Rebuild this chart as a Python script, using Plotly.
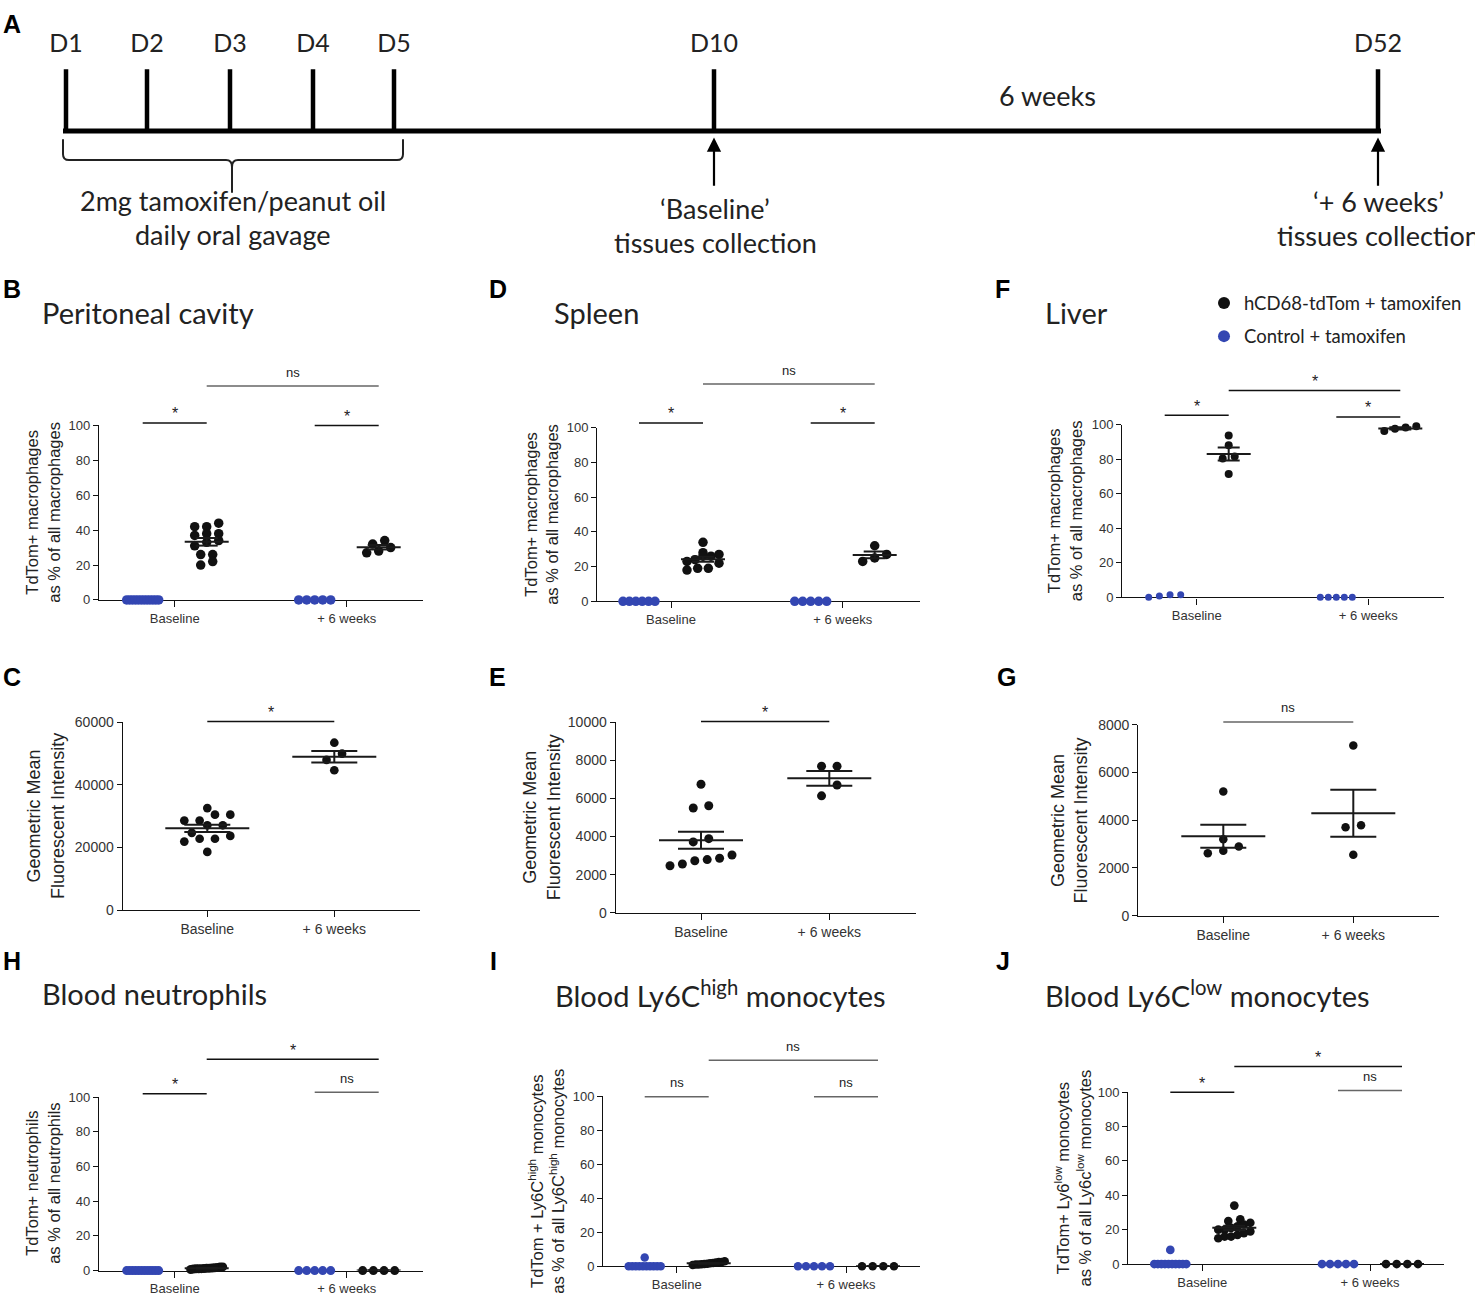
import numpy as np
import plotly.graph_objects as go

W, H = 1475, 1299
BLACK = "#111111"
BLUE = "#3346b2"
GRAY = "#666666"
AXF = "Liberation Sans, Arial, sans-serif"
CALF = "Lato, Carlito, Calibri, sans-serif"

# ------------------------------------------------------------------ data
categories = ["Baseline", "+ 6 weeks"]
group_names = {"cd68": "hCD68-tdTom + tamoxifen", "ctrl": "Control + tamoxifen"}

# B  Peritoneal cavity, % TdTom+ of all macrophages
pc_ctrl_base = [0, 0, 0, 0, 0, 0, 0, 0, 0, 0, 0, 0]
pc_ctrl_6w = [0, 0, 0, 0, 0]
pc_cd68_base = [44, 42, 42, 38, 38, 37, 34, 33, 31, 26, 26, 22, 20]
pc_cd68_6w = [34, 32, 30, 28, 27]
# D  Spleen
sp_ctrl_base = [0, 0, 0, 0, 0, 0]
sp_ctrl_6w = [0, 0, 0, 0, 0]
sp_cd68_base = [34, 28, 27, 26, 26, 24, 23, 22, 19, 19, 18]
sp_cd68_6w = [32, 27, 25, 23]
# F  Liver
lv_ctrl_base = [0, 1.5, 0.8, 1.5]
lv_ctrl_6w = [0, 0, 0, 0, 0]
lv_cd68_base = [93.7, 88, 81.5, 80.4, 71.4]
lv_cd68_6w = [96.2, 99, 97.5, 98.3]
# C  Peritoneal MFI
pc_mfi_base = [32600, 30500, 30500, 28600, 28600, 27100, 27100, 24700, 23700, 22800, 22800, 21900, 18600]
pc_mfi_6w = [53500, 50000, 48000, 44700]
# E  Spleen MFI
sp_mfi_base = [6750, 5620, 5500, 3890, 3720, 3030, 2860, 2790, 2730, 2560, 2470]
sp_mfi_6w = [7700, 7700, 6710, 6140]
# G  Liver MFI
lv_mfi_base = [5200, 3200, 2900, 2720, 2620]
lv_mfi_6w = [7130, 3790, 3710, 2550]
# H  Blood neutrophils
neu_ctrl_base = [0, 0, 0, 0, 0, 0, 0, 0, 0, 0, 0, 0]
neu_cd68_base = [2.0, 1.5, 1.2, 1.0, 1.8, 1.4, 0.9, 0.6, 1.1, 1.6, 2.1, 1.0, 1.3]
neu_ctrl_6w = [0, 0, 0, 0, 0]
neu_cd68_6w = [0, 0, 0, 0]
# I  Blood Ly6C-high monocytes
hi_ctrl_base = [5.2, 0, 0, 0, 0, 0, 0, 0, 0, 0, 0]
hi_cd68_base = [3.0, 2.5, 2.2, 2.0, 1.5, 1.2, 1.0, 0.8, 1.8, 2.6, 1.4, 1.0]
hi_ctrl_6w = [0, 0, 0, 0, 0]
hi_cd68_6w = [0, 0, 0, 0]
# J  Blood Ly6C-low monocytes
lo_ctrl_base = [8.2, 0, 0, 0, 0, 0, 0, 0, 0, 0, 0]
lo_cd68_base = [34, 26, 25, 24, 23, 22, 21, 20, 20, 19, 18, 17, 16, 16, 15]
lo_ctrl_6w = [0, 0, 0, 0, 0]
lo_cd68_6w = [0, 0, 0, 0]

# timeline schematic
tl_days = ["D1", "D2", "D3", "D4", "D5", "D10", "D52"]
tl_pos = [66, 147, 230, 313, 394, 714, 1378]

PCT_T = "TdTom+ macrophages<br>as % of all macrophages"
MFI_T = "Geometric Mean<br>Fluorescent Intensity"

panels = [
    dict(L="B", title="Peritoneal cavity", ytitle=PCT_T, kind="pct",
         data={"ctrl": [pc_ctrl_base, pc_ctrl_6w], "cd68": [pc_cd68_base, pc_cd68_6w]},
         g=(99, 423, 174.7, 346.7, 599.3, 422.7), ymax=100, step=20, ms=9.5, tshift=56,
         br=[("ctrl", 0, "cd68", 0, 101.5, "*"), ("ctrl", 1, "cd68", 1, 100, "*"),
             ("cd68", 0, "cd68", 1, 122.6, "ns")]),
    dict(L="D", title="Spleen", ytitle=PCT_T, kind="pct",
         data={"ctrl": [sp_ctrl_base, sp_ctrl_6w], "cd68": [sp_cd68_base, sp_cd68_6w]},
         g=(597.3, 920, 671, 842.7, 600.7, 425), ymax=100, step=20, ms=9.5, tshift=56,
         br=[("ctrl", 0, "cd68", 0, 102.8, "*"), ("ctrl", 1, "cd68", 1, 102.8, "*"),
             ("cd68", 0, "cd68", 1, 125.2, "ns")]),
    dict(L="F", title="Liver", ytitle=PCT_T, kind="pct",
         data={"ctrl": [lv_ctrl_base, lv_ctrl_6w], "cd68": [lv_cd68_base, lv_cd68_6w]},
         g=(1122.3, 1444, 1196.7, 1368.3, 596.7, 421.7), ymax=100, step=20, ms=8, tshift=57,
         br=[("ctrl", 0, "cd68", 0, 105.4, "*"), ("ctrl", 1, "cd68", 1, 104.4, "*"),
             ("cd68", 0, "cd68", 1, 119.7, "*")]),
    dict(L="C", title=None, ytitle=MFI_T, kind="mfi",
         data={"cd68": [pc_mfi_base, pc_mfi_6w]},
         g=(122.7, 420, 207.3, 334.3, 913.3, 723.3), ymax=60000, step=20000, ms=8.7, tshift=77,
         hmax=23, thr=0.9,
         br=[("cd68", 0, "cd68", 1, 60300, "*")]),
    dict(L="E", title=None, ytitle=MFI_T, kind="mfi",
         data={"cd68": [sp_mfi_base, sp_mfi_6w]},
         g=(615.7, 916, 701, 829.3, 916, 723.3), ymax=10000, step=2000, ms=9, tshift=74,
         hmax=31, thr=1.3,
         br=[("cd68", 0, "cd68", 1, 10050, "*")]),
    dict(L="G", title=None, ytitle=MFI_T, kind="mfi",
         data={"cd68": [lv_mfi_base, lv_mfi_6w]},
         g=(1138.3, 1439, 1223.3, 1353.3, 919, 725.7), ymax=8000, step=2000, ms=8.5, tshift=69,
         hmax=23, thr=0.9,
         br=[("cd68", 0, "cd68", 1, 8120, "ns")]),
    dict(L="H", title="Blood neutrophils", ytitle="TdTom+ neutrophils<br>as % of all neutrophils", kind="pct",
         data={"ctrl": [neu_ctrl_base, neu_ctrl_6w], "cd68": [neu_cd68_base, neu_cd68_6w]},
         g=(99, 422.7, 174.7, 346.7, 1278.3, 1102.7), ymax=100, step=20, ms=9, tshift=56,
         br=[("ctrl", 0, "cd68", 0, 101.9, "*"), ("ctrl", 1, "cd68", 1, 102.8, "ns"),
             ("cd68", 0, "cd68", 1, 121.9, "*")]),
    dict(L="I", title="Blood Ly6C<sup>high</sup> monocytes",
         ytitle="TdTom + Ly6C<sup>high</sup> monocytes<br>as % of all Ly6C<sup>high</sup> monocytes", kind="pct",
         data={"ctrl": [hi_ctrl_base, hi_ctrl_6w], "cd68": [hi_cd68_base, hi_cd68_6w]},
         g=(603.3, 920, 676.7, 846, 1274, 1102), ymax=100, step=20, ms=8.5, tshift=57,
         br=[("ctrl", 0, "cd68", 0, 99.8, "ns"), ("ctrl", 1, "cd68", 1, 99.8, "ns"),
             ("cd68", 0, "cd68", 1, 121.3, "ns")]),
    dict(L="J", title="Blood Ly6C<sup>low</sup> monocytes",
         ytitle="TdTom+ Ly6<sup>low</sup> monocytes<br>as % of all Ly6c<sup>low</sup> monocytes", kind="pct",
         data={"ctrl": [lo_ctrl_base, lo_ctrl_6w], "cd68": [lo_cd68_base, lo_cd68_6w]},
         g=(1128.3, 1444, 1202.3, 1370, 1271.7, 1097.7), ymax=100, step=20, ms=8.7, tshift=56,
         br=[("ctrl", 0, "cd68", 0, 100, "*"), ("ctrl", 1, "cd68", 1, 101, "ns"),
             ("cd68", 0, "cd68", 1, 114.9, "*")]),
]

title_pos = {"B": (40, 308), "D": (552, 308), "F": (1043, 308),
             "H": (40, 998), "I": (553, 998), "J": (1043, 998)}
letter_pos = {"A": (1, 16), "B": (1, 285), "C": (1, 677), "D": (487, 285), "E": (487, 677),
              "F": (993, 285), "G": (995, 677), "H": (1, 965), "I": (488, 965), "J": (994, 965)}


def swarm(vals, ppu_y, d, cmax, hmax, thr):
    v = np.asarray(vals, float)
    order = np.argsort(v, kind="stable")
    offs = np.zeros(len(v))
    rows, cur = [], []
    for i in order:
        if cur and (v[i] - v[cur[0]]) * ppu_y <= thr * d:
            cur.append(i)
        else:
            if cur:
                rows.append(cur)
            cur = [i]
    if cur:
        rows.append(cur)
    for r in rows:
        k = len(r)
        if k < 2:
            continue
        s = min(cmax, 2 * hmax / (k - 1))
        for j, i in enumerate(r):
            offs[i] = (j - (k - 1) / 2) * s
    return offs


fig = go.Figure()
layout = {}
annotations = []
shapes = []
legend_done = set()

for idx, p in enumerate(panels):
    n = idx + 1
    sfx = "" if n == 1 else str(n)
    xa, ya = "x" + sfx, "y" + sfx
    ybn = n + 9
    yb = "y%d" % ybn
    x0, x1, t1, t2, y0, ytop = p["g"]
    ppu_x = t2 - t1
    ppu_y = (y0 - ytop) / p["ymax"]
    xr = [1 - (t1 - x0) / ppu_x, 2 + (x1 - t2) / ppu_x]
    ydom = [1 - y0 / H, 1 - ytop / H]
    ext = 75
    pct = p["kind"] == "pct"
    fs = 13 if pct else 14
    tv = list(range(0, p["ymax"] + 1, p["step"]))
    layout["xaxis" + sfx] = dict(
        domain=[x0 / W, x1 / W], range=xr, anchor=ya, tickvals=[1, 2], ticktext=categories,
        showline=True, linecolor="#111", linewidth=1.3, ticks="outside", ticklen=6, tickwidth=1.3,
        tickcolor="#111", showgrid=False, zeroline=False, layer="below traces",
        tickfont=dict(family=AXF, size=fs, color="#333"), fixedrange=True)
    layout["yaxis" + sfx] = dict(
        domain=ydom, range=[0, p["ymax"]], anchor=xa, tickvals=tv, ticktext=[str(t) for t in tv],
        showline=True, linecolor="#111", linewidth=1.3, ticks="outside", ticklen=5, tickwidth=1.3,
        tickcolor="#111", showgrid=False, zeroline=False, layer="below traces",
        tickfont=dict(family=AXF, size=fs, color="#333"), fixedrange=True)
    layout["yaxis%d" % ybn] = dict(
        domain=[ydom[0], 1 - (ytop - ext) / H], range=[0, p["ymax"] + ext / ppu_y],
        anchor=xa, visible=False, fixedrange=True)

    goff = {"ctrl": -32, "cd68": 32} if pct else {"cd68": 0}
    cmax = 12 if pct else 15.5
    hmax = 16 if pct else p["hmax"]
    thr = 0.9 if pct else p["thr"]
    mw, cw = (22, 11) if pct else (42, 23)

    def gx(g, c):
        return (c + 1) + goff[g] / ppu_x

    for g in ["ctrl", "cd68"]:
        if g not in p["data"]:
            continue
        for c in range(2):
            vals = p["data"][g][c]
            ms = p["ms"] if (g == "cd68" or p["L"] != "F") else 7
            offs = swarm(vals, ppu_y, ms, cmax, hmax, thr)
            cx = gx(g, c)
            show = (p["L"] == "B" and c == 0 and g not in legend_done)
            if show:
                legend_done.add(g)
            col = BLACK if g == "cd68" else BLUE
            fig.add_trace(go.Scatter(
                x=cx + offs / ppu_x, y=vals, mode="markers", xaxis=xa, yaxis=ya,
                marker=dict(color=col, size=ms, line=dict(width=0)), cliponaxis=False,
                name=group_names[g], showlegend=show, legendgroup=g,
                legendrank=1 if g == "cd68" else 2, hoverinfo="skip"))
            if g == "cd68" and len(vals) > 1:
                m = float(np.mean(vals))
                s = float(np.std(vals, ddof=1) / np.sqrt(len(vals)))
                dx, dc = mw / ppu_x, cw / ppu_x
                fig.add_trace(go.Scatter(
                    x=[cx - dx, cx + dx, None, cx - dc, cx + dc, None, cx - dc, cx + dc, None, cx, cx],
                    y=[m, m, None, m + s, m + s, None, m - s, m - s, None, m - s, m + s],
                    mode="lines", xaxis=xa, yaxis=ya, line=dict(color="#1a1a1a", width=2),
                    showlegend=False, hoverinfo="skip"))

    for (ga, ca, gb, cb, yv, lab) in p["br"]:
        xa_, xb_ = gx(ga, ca), gx(gb, cb)
        col = BLACK if lab == "*" else GRAY
        fig.add_trace(go.Scatter(x=[xa_, xb_], y=[yv, yv], mode="lines", xaxis=xa, yaxis=yb,
                                 line=dict(color=col, width=1.5), showlegend=False, hoverinfo="skip"))
        annotations.append(dict(
            x=(xa_ + xb_) / 2, y=yv, xref=xa, yref=yb, text=lab, showarrow=False,
            yanchor="middle", yshift=9 if lab == "*" else 14,
            font=dict(family=AXF, size=16 if lab == "*" else 13, color="#222")))

    annotations.append(dict(
        x=0, y=0.5, xref=xa + " domain", yref=ya + " domain", text=p["ytitle"], textangle=-90,
        xanchor="center", yanchor="middle", xshift=-p["tshift"], showarrow=False,
        font=dict(family=AXF, size=16.5 if pct else 18, color="#222")))

    if p["title"]:
        tx, ty = title_pos[p["L"]]
        annotations.append(dict(x=tx / W, y=1 - ty / H, xref="paper", yref="paper", text=p["title"],
                                xanchor="left", yanchor="middle", showarrow=False,
                                font=dict(family=CALF, size=29, color="#222")))

for L, (lx, ly) in letter_pos.items():
    annotations.append(dict(x=lx / W, y=1 - ly / H, xref="paper", yref="paper", text="<b>%s</b>" % L,
                            xanchor="left", yanchor="middle", showarrow=False,
                            font=dict(family=AXF, size=25, color="#000")))

# ------------------------------------------------------------------ timeline (panel A)
TX, TY = "x10", "y19"
layout["xaxis10"] = dict(domain=[0, 1], range=[0, W], anchor=TY, visible=False, fixedrange=True)
layout["yaxis19"] = dict(domain=[1 - 262 / H, 1], range=[262, 0], anchor=TX, visible=False, fixedrange=True)
fig.add_trace(go.Scatter(x=tl_pos, y=[38] * len(tl_pos), mode="text", text=tl_days, xaxis=TX, yaxis=TY,
                         textfont=dict(family=CALF, size=25, color="#222"), showlegend=False,
                         hoverinfo="skip", cliponaxis=False))
shapes.append(dict(type="line", xref=TX, yref=TY, x0=63, x1=1381, y0=124.5, y1=124.5,
                   line=dict(color="#000", width=5)))
for xp in tl_pos:
    shapes.append(dict(type="line", xref=TX, yref=TY, x0=xp, x1=xp, y0=62, y1=124.5,
                       line=dict(color="#000", width=4.5)))
shapes.append(dict(type="path", xref=TX, yref=TY,
                   path="M 63 133 L 63 148 Q 63 154 69 154 L 226 154 Q 232 154 232 161 L 232 187 "
                        "M 232 161 Q 232 154 238 154 L 397 154 Q 403 154 403 148 L 403 133",
                   line=dict(color="#222", width=2)))
for xp in [tl_pos[5], tl_pos[6]]:
    annotations.append(dict(x=xp, y=131, ax=xp, ay=190, xref=TX, yref=TY, axref=TX, ayref=TY,
                            text=" ", showarrow=True, arrowhead=2, arrowsize=1.3, arrowwidth=2.2,
                            arrowcolor="#000"))
tl_texts = [("6 weeks", 1047, 89), ("2mg tamoxifen/peanut oil", 233, 195), ("daily oral gavage", 233, 229),
            ("\u2018Baseline\u2019", 715, 203), ("tissues collection", 715, 237),
            ("\u2018+ 6 weeks\u2019", 1378, 196), ("tissues collection", 1378, 230)]
for t, xp, yp in tl_texts:
    annotations.append(dict(x=xp, y=yp, xref=TX, yref=TY, text=t, showarrow=False,
                            xanchor="center", yanchor="middle",
                            font=dict(family=CALF, size=27, color="#222")))

fig.update_layout(
    width=W, height=H, margin=dict(l=0, r=0, t=0, b=0),
    paper_bgcolor="white", plot_bgcolor="rgba(0,0,0,0)",
    showlegend=True,
    legend=dict(x=1204 / W, y=1 - 280 / H, xanchor="left", yanchor="top",
                font=dict(family=CALF, size=18.5, color="#222"), bgcolor="rgba(0,0,0,0)",
                traceorder="grouped", tracegroupgap=6, itemsizing="constant"),
    annotations=annotations, shapes=shapes, **layout)

fig.write_html("out.html", config={"displayModeBar": False},
               post_script="document.body.style.margin='0';document.body.style.overflow='hidden';")
